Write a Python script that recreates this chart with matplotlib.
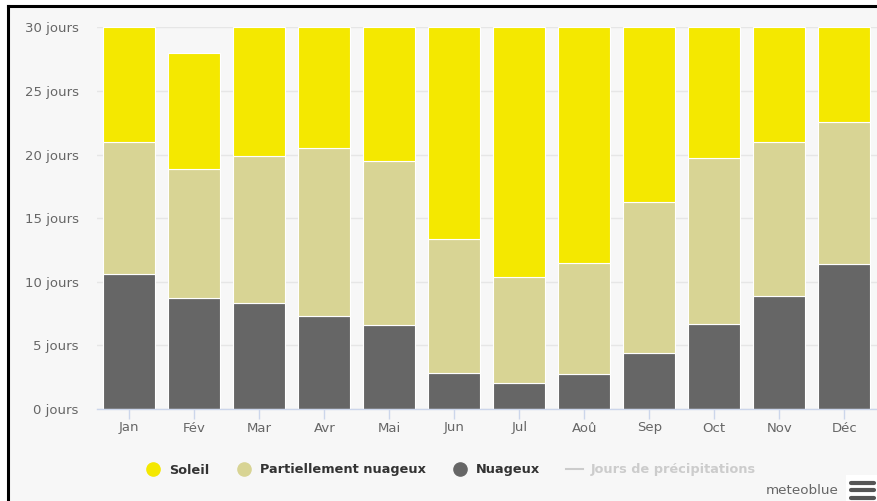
import matplotlib
matplotlib.use('Agg')
import matplotlib.pyplot as plt
from matplotlib.lines import Line2D
import numpy as np

plt.rcParams['font.family'] = ['DejaVu Sans']

mois = ['Jan', 'Fév', 'Mar', 'Avr', 'Mai', 'Jun', 'Jul', 'Aoû', 'Sep', 'Oct', 'Nov', 'Déc']
nuageux = [10.6, 8.75, 8.3, 7.3, 6.6, 2.85, 2.05, 2.75, 4.4, 6.7, 8.9, 11.4]
partiel = [10.4, 10.15, 11.6, 13.2, 12.9, 10.55, 8.35, 8.75, 11.9, 13.0, 12.05, 11.15]
soleil = [9.0, 9.1, 10.1, 9.5, 10.5, 16.6, 19.6, 18.5, 13.7, 10.3, 9.05, 7.45]
yticks = [0, 5, 10, 15, 20, 25, 30]

c_sun = '#f4e800'
c_part = '#d8d494'
c_cloud = '#666666'
bg = '#f7f7f7'

W, H = 878, 501
fig = plt.figure(figsize=(W / 100, H / 100), dpi=100, facecolor='white')

# chart panel with black frame on top and left
fig.patches.append(plt.Rectangle((8 / W, 0), 1, 1 - 6 / H, transform=fig.transFigure,
                                 facecolor=bg, edgecolor='none', zorder=-10))
fig.lines.append(Line2D([8 / W, 8 / W], [0, 1 - 6 / H], transform=fig.transFigure,
                        color='black', lw=2.2))
fig.lines.append(Line2D([8 / W, 1], [1 - 6 / H, 1 - 6 / H], transform=fig.transFigure,
                        color='black', lw=2.2))

ax = fig.add_axes([96.8 / W, (H - 409) / H, (876.7 - 96.8) / W, (409 - 27.3) / H])
ax.set_facecolor(bg)
ax.patch.set_alpha(0)

x = np.arange(len(mois))
nuageux = np.array(nuageux)
partiel = np.array(partiel)
soleil = np.array(soleil)
kw = dict(width=0.8, edgecolor='white', linewidth=0.8, zorder=3)
ax.bar(x, nuageux, color=c_cloud, **kw)
ax.bar(x, partiel, bottom=nuageux, color=c_part, **kw)
ax.bar(x, soleil, bottom=nuageux + partiel, color=c_sun, **kw)

ax.set_xlim(-0.5, len(mois) - 0.5)
ax.set_ylim(0, 30)
ax.set_yticks(yticks)
ax.set_yticklabels([f'{v} jours' for v in yticks])
ax.set_xticks(x)
ax.set_xticklabels(mois)
ax.grid(axis='y', color='#e6e6e6', lw=1, zorder=0)
for s in ['top', 'right', 'left']:
    ax.spines[s].set_visible(False)
ax.spines['bottom'].set_color('#ccd6eb')
ax.spines['bottom'].set_linewidth(1)
ax.spines['bottom'].set_zorder(4)
ax.tick_params(axis='y', length=0, pad=13, labelsize=9.5, labelcolor='#666666')
ax.tick_params(axis='x', length=7, width=1, color='#ccd6eb', pad=2,
               labelsize=9.5, labelcolor='#666666')

handles = [
    Line2D([], [], ls='none', marker='o', ms=9.5, color=c_sun),
    Line2D([], [], ls='none', marker='o', ms=9.5, color=c_part),
    Line2D([], [], ls='none', marker='o', ms=9.5, color=c_cloud),
    Line2D([], [], color='#cccccc', lw=1.5),
]
labels = ['Soleil', 'Partiellement nuageux', 'Nuageux', 'Jours de précipitations']
leg = fig.legend(handles, labels, loc='center', bbox_to_anchor=(450 / W, 1 - 470 / H),
                 ncol=4, frameon=False, handlelength=1.3, handletextpad=0.6,
                 columnspacing=2.0, prop={'weight': 'bold', 'size': 9.3})
for t in leg.get_texts()[:3]:
    t.set_color('#333333')
leg.get_texts()[3].set_color('#cccccc')

# export menu button
fig.text(839 / W, 1 - 491 / H, 'meteoblue', ha='right', va='center',
         fontsize=9.7, color='#666666')
fig.patches.append(plt.Rectangle((846 / W, 0), 32 / W, 26 / H, transform=fig.transFigure,
                                 facecolor='white', edgecolor='none'))
for yy in (482.5, 490, 497.5):
    fig.lines.append(Line2D([851 / W, 874 / W], [1 - yy / H, 1 - yy / H],
                            transform=fig.transFigure, color='#555555', lw=3.0,
                            solid_capstyle='round'))

fig.savefig('out.png', dpi=100, facecolor='white')
